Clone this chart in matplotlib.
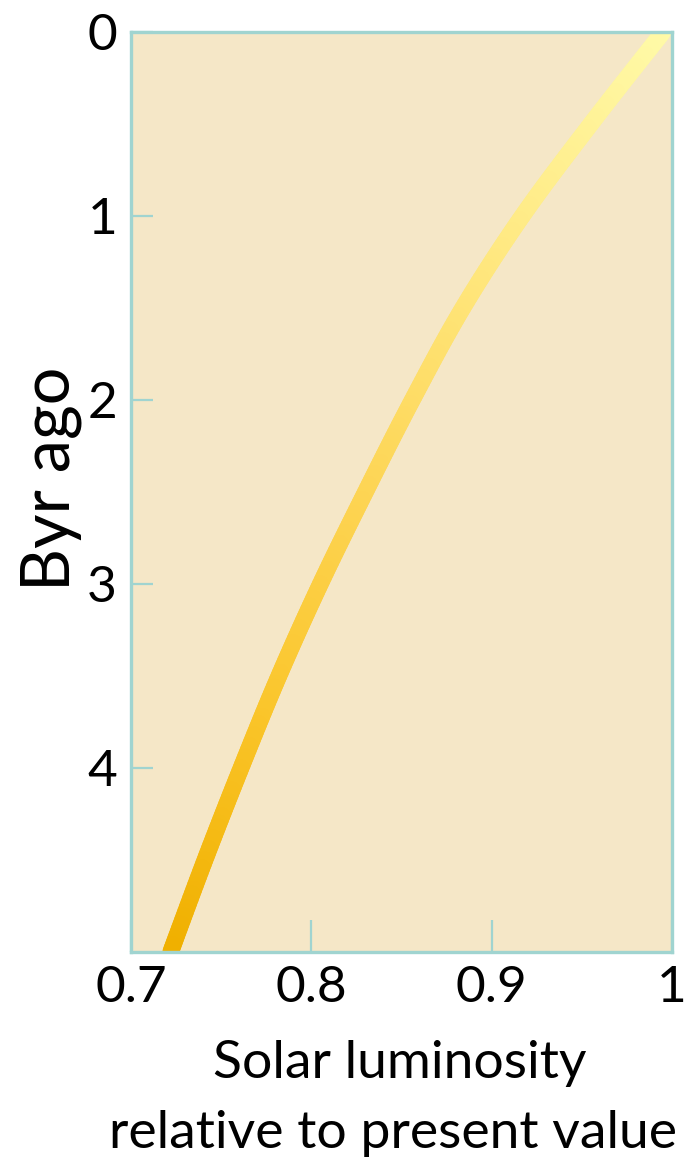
import matplotlib
matplotlib.use("Agg")
import matplotlib.pyplot as plt
import numpy as np
from matplotlib.bezier import BezierSegment
from matplotlib.collections import LineCollection
from matplotlib.colors import LinearSegmentedColormap

# values
byr_ago = [0.0, 0.5, 1.0, 1.5, 2.0, 2.5, 3.0, 3.5, 4.0, 4.5, 5.0]
luminosity = [0.995, 0.955, 0.917, 0.884, 0.856, 0.830, 0.805, 0.782, 0.761, 0.741, 0.722]

x_ticks = [0.7, 0.8, 0.9, 1.0]
x_tick_labels = ["0.7", "0.8", "0.9", "1"]
y_ticks = [0, 1, 2, 3, 4]
y_tick_labels = ["0", "1", "2", "3", "4"]

bg_color = "#f5e7c7"
frame_color = "#a0d4d0"
sun_cmap = LinearSegmentedColormap.from_list(
    "sun", ["#f0b000", "#fac52a", "#fdd555", "#ffe880", "#fffaa8"])

plt.rcParams["font.family"] = ["Lato", "DejaVu Sans"]

fig = plt.figure(figsize=(6.98, 11.62), dpi=100)
ax = fig.add_axes([131 / 698, 1 - 952 / 1162, 541 / 698, 920 / 1162])
ax.set_facecolor(bg_color)

# smooth curve through the read points (Catmull-Rom as cubic Bezier pieces)
P = np.column_stack([luminosity, byr_ago])
Pp = np.vstack([P[0], P, P[-1]])
curve = []
for i in range(len(P) - 1):
    p0, p1 = Pp[i + 1], Pp[i + 2]
    c1 = p0 + (Pp[i + 2] - Pp[i]) / 6
    c2 = p1 - (Pp[i + 3] - Pp[i + 1]) / 6
    seg = BezierSegment(np.array([p0, c1, c2, p1]))
    t = np.linspace(0, 1, 25, endpoint=(i == len(P) - 2))
    curve.append(seg(t))
curve = np.vstack(curve)

pts = curve.reshape(-1, 1, 2)
segs = np.concatenate([pts[:-1], pts[1:]], axis=1)
mid = (curve[:-1, 1] + curve[1:, 1]) / 2
lc = LineCollection(segs, cmap=sun_cmap, linewidths=12, capstyle="round")
lc.set_array(1 - mid / 5.0)
lc.set_clim(0, 1)
ax.add_collection(lc)

ax.set_xlim(0.7, 1.0)
ax.set_ylim(5, 0)

for s in ax.spines.values():
    s.set_color(frame_color)
    s.set_linewidth(2.4)
    s.set_zorder(3)

ax.set_xticks(x_ticks)
ax.set_xticklabels(x_tick_labels)
ax.set_yticks(y_ticks)
ax.set_yticklabels(y_tick_labels)
ax.tick_params(axis="x", direction="in", length=23, width=1.6, color=frame_color,
               labelsize=37, pad=9)
ax.tick_params(axis="y", direction="in", length=16, width=1.6, color=frame_color,
               labelsize=37, pad=10)

ax.set_ylabel("Byr ago", fontsize=48)
ax.yaxis.set_label_coords(-0.09, 0.514)

fig.text(400 / 698, 1 - 1078 / 1162, "Solar luminosity", fontsize=38.5,
         ha="center", va="baseline")
fig.text(393 / 698, 1 - 1148 / 1162, "relative to present value", fontsize=38.5,
         ha="center", va="baseline")

fig.savefig("out.png", dpi=100)
